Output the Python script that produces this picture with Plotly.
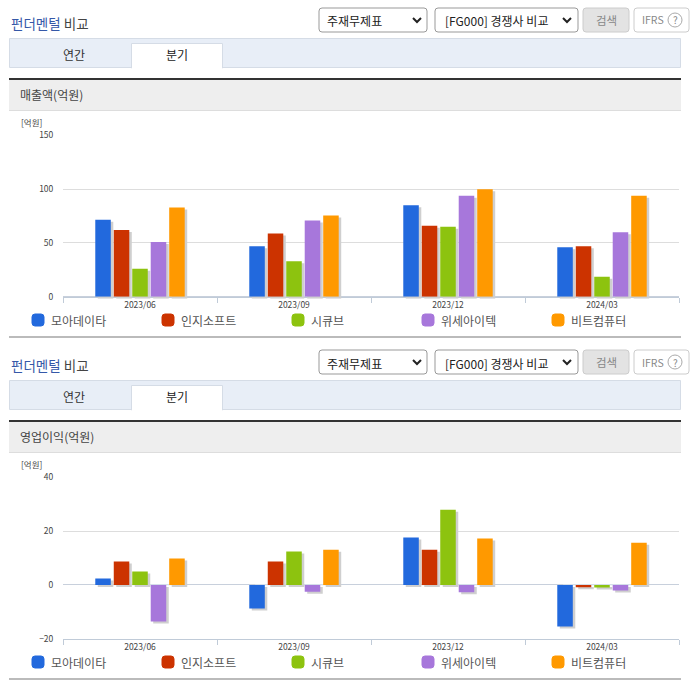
import plotly.graph_objects as go

W = 696
H = 684

companies = ['모아데이타', '인지소프트', '시큐브', '위세아이텍', '비트컴퓨터']
colors = ['#2269DD', '#CC3300', '#8DC30F', '#A777DB', '#FF9900']
periods = ['2023/06', '2023/09', '2023/12', '2024/03']

# one list per company, same order as periods
sales = [
    [71.5, 47, 85, 46],
    [62, 58.7, 66, 47],
    [26, 33, 65, 18.6],
    [51, 71, 94, 60],
    [83, 75.5, 100, 94],
]
profit = [
    [2.4, -8.8, 17.6, -15.5],
    [8.7, 8.7, 13.1, -0.9],
    [5, 12.4, 28, -1],
    [-13.6, -2.5, -2.7, -2.1],
    [9.8, 13.1, 17.3, 15.7],
]

sales_ticks = [0, 50, 100, 150]
profit_ticks = [-20, 0, 20, 40]

FONT = 'Noto Sans CJK KR'
legend_x = [32, 162, 292, 422, 552]


def px(x):
    return x / W


def py(y):
    return 1 - y / H


def round_rect(x0, y0, x1, y1, r=3):
    return (f'M{px(x0 + r)},{py(y0)} L{px(x1 - r)},{py(y0)} Q{px(x1)},{py(y0)} {px(x1)},{py(y0 + r)} '
            f'L{px(x1)},{py(y1 - r)} Q{px(x1)},{py(y1)} {px(x1 - r)},{py(y1)} '
            f'L{px(x0 + r)},{py(y1)} Q{px(x0)},{py(y1)} {px(x0)},{py(y1 - r)} '
            f'L{px(x0)},{py(y0 + r)} Q{px(x0)},{py(y0)} {px(x0 + r)},{py(y0)} Z')


shapes = []
annotations = []


def box(x0, y0, x1, y1, fill, line=None):
    shapes.append(dict(type='rect', xref='paper', yref='paper', layer='below',
                       x0=px(x0), x1=px(x1), y0=py(y1), y1=py(y0), fillcolor=fill,
                       line=dict(color=line or fill, width=1 if line else 0)))


def rbox(x0, y0, x1, y1, fill, line):
    shapes.append(dict(type='path', xref='paper', yref='paper', layer='below',
                       path=round_rect(x0, y0, x1, y1), fillcolor=fill,
                       line=dict(color=line, width=1)))


def label(x, y, text, size=12, color='#444444', anchor='left'):
    annotations.append(dict(x=px(x), y=py(y), xref='paper', yref='paper', text=text, showarrow=False,
                            xanchor=anchor, yanchor='middle', align=anchor,
                            xshift=-1 if anchor == 'left' else 0,
                            font=dict(family=FONT, size=size, color=color)))


def chevron(x, y):
    shapes.append(dict(type='path', xref='paper', yref='paper',
                       path=f'M{px(x - 4)},{py(y - 2)} L{px(x)},{py(y + 2)} L{px(x + 4)},{py(y - 2)}',
                       line=dict(color='#222222', width=2)))


# page furniture around each chart, top is the y offset of the block
def panel(top, title):
    label(10, top + 23, '<span style="color:#3558A8">펀더멘털</span> 비교', size=13.5)
    rbox(319, top + 8, 427, top + 32, '#FFFFFF', '#999999')
    label(326, top + 21, '주재무제표', size=12, color='#222222')
    chevron(417, top + 20)
    rbox(435, top + 8, 578, top + 32, '#FFFFFF', '#999999')
    label(444, top + 21, '[FG000] 경쟁사 비교', size=12, color='#222222')
    chevron(567, top + 20)
    rbox(583, top + 8, 629, top + 32, '#E3E3E3', '#CCCCCC')
    label(606, top + 20, '검색', size=11.5, color='#888888', anchor='center')
    rbox(634, top + 8, 689, top + 32, '#FFFFFF', '#CCCCCC')
    label(641, top + 20, 'IFRS', size=10.5, color='#888888')
    shapes.append(dict(type='circle', xref='paper', yref='paper', layer='below',
                       x0=px(668), x1=px(682), y0=py(top + 27), y1=py(top + 13),
                       line=dict(color='#AAAAAA', width=1)))
    label(675, top + 20, '?', size=10, color='#888888', anchor='center')

    box(9.5, top + 38.5, 680.5, top + 67.5, '#E8EEF7', '#D5DCE6')
    box(131.5, top + 43.5, 222.5, top + 68, '#FFFFFF', '#D5DCE6')
    box(132, top + 66, 222, top + 69, '#FFFFFF')
    label(74, top + 54, '연간', size=12, color='#333333', anchor='center')
    label(177, top + 55, '분기', size=12, color='#222222', anchor='center')

    box(9, top + 80, 681, top + 110, '#EEEEEE', None)
    box(9, top + 78, 681, top + 80, '#333333')
    box(9, top + 110, 681, top + 111, '#DDDDDD')
    label(19, top + 95, title, size=12, color='#444444')
    label(20, top + 122, '[억원]', size=8.5, color='#444444')

    for name, color, lx in zip(companies, colors, legend_x):
        rbox(lx, top + 314, lx + 12, top + 326, color, color)
        label(lx + 18, top + 320, name, size=12, color='#555555')
    box(9, top + 336, 681, top + 338, '#BBBBBB')


panel(0, '매출액(억원)')
panel(342, '영업이익(억원)')

fig = go.Figure()


def add_chart(series, first, y_top, y_bottom, y_range, ticks):
    base, shadow, main = first, first + 1, first + 2
    for n, dx, dy in [(base, 0, 0), (shadow, 2.5, 2), (main, 0, 0)]:
        suffix = '' if n == 1 else str(n)
        visible = n == base
        fig.update_layout({
            f'xaxis{suffix}': dict(
                domain=[px(63 + dx), px(679 + dx)], range=[-0.5, 3.5], type='category',
                categoryorder='array', categoryarray=periods, anchor=f'y{suffix}', visible=visible,
                tickson='boundaries', ticks='outside', ticklen=5, tickcolor='#C0CBD8',
                showline=True, linecolor='#C0CBD8', linewidth=1, showgrid=False, automargin=False,
                tickfont=dict(family=FONT, size=8.5, color='#444444'), fixedrange=True),
            f'yaxis{suffix}': dict(
                domain=[py(y_bottom + dy), py(y_top + dy)], range=y_range, anchor=f'x{suffix}',
                visible=visible, tickvals=ticks, ticks='outside', ticklen=7, tickcolor='rgba(0,0,0,0)',
                showgrid=True, gridcolor='#DDDDDD', gridwidth=1, automargin=False,
                zeroline=True, zerolinecolor='#C8D0DC', zerolinewidth=1, showline=False,
                tickfont=dict(family=FONT, size=8.5, color='#444444'), fixedrange=True),
        })

    # empty bar so the axis subplot keeps its ticks and labels
    fig.add_trace(go.Bar(x=periods, y=[0, 0, 0, 0], marker_color='rgba(0,0,0,0)', showlegend=False,
                         hoverinfo='skip', xaxis=f'x{"" if base == 1 else base}',
                         yaxis=f'y{"" if base == 1 else base}'))
    for name, values in zip(companies, series):
        fig.add_trace(go.Bar(x=periods, y=values, marker_color='#CFCFCF', marker_line_width=0,
                             showlegend=False, hoverinfo='skip', xaxis=f'x{shadow}', yaxis=f'y{shadow}'))
    for name, values, color in zip(companies, series, colors):
        fig.add_trace(go.Bar(x=periods, y=values, name=name, marker_color=color, marker_line_width=0,
                             showlegend=False, xaxis=f'x{main}', yaxis=f'y{main}'))


add_chart(sales, 1, 135.5, 296.7, [0, 150], sales_ticks)
add_chart(profit, 4, 477.4, 638.7, [-20, 40], profit_ticks)

fig.update_layout(
    width=W, height=H, margin=dict(l=0, r=0, t=0, b=0, autoexpand=False),
    paper_bgcolor='#FFFFFF', plot_bgcolor='rgba(0,0,0,0)',
    barmode='group', bargap=0.4, bargroupgap=0.16,
    font=dict(family=FONT), showlegend=False,
    shapes=shapes, annotations=annotations,
)

# browser default body margin would push the figure off by 8px
fig.write_html("out.html", config={'displayModeBar': False},
               post_script="document.body.style.margin='0';document.body.style.overflow='hidden';")
